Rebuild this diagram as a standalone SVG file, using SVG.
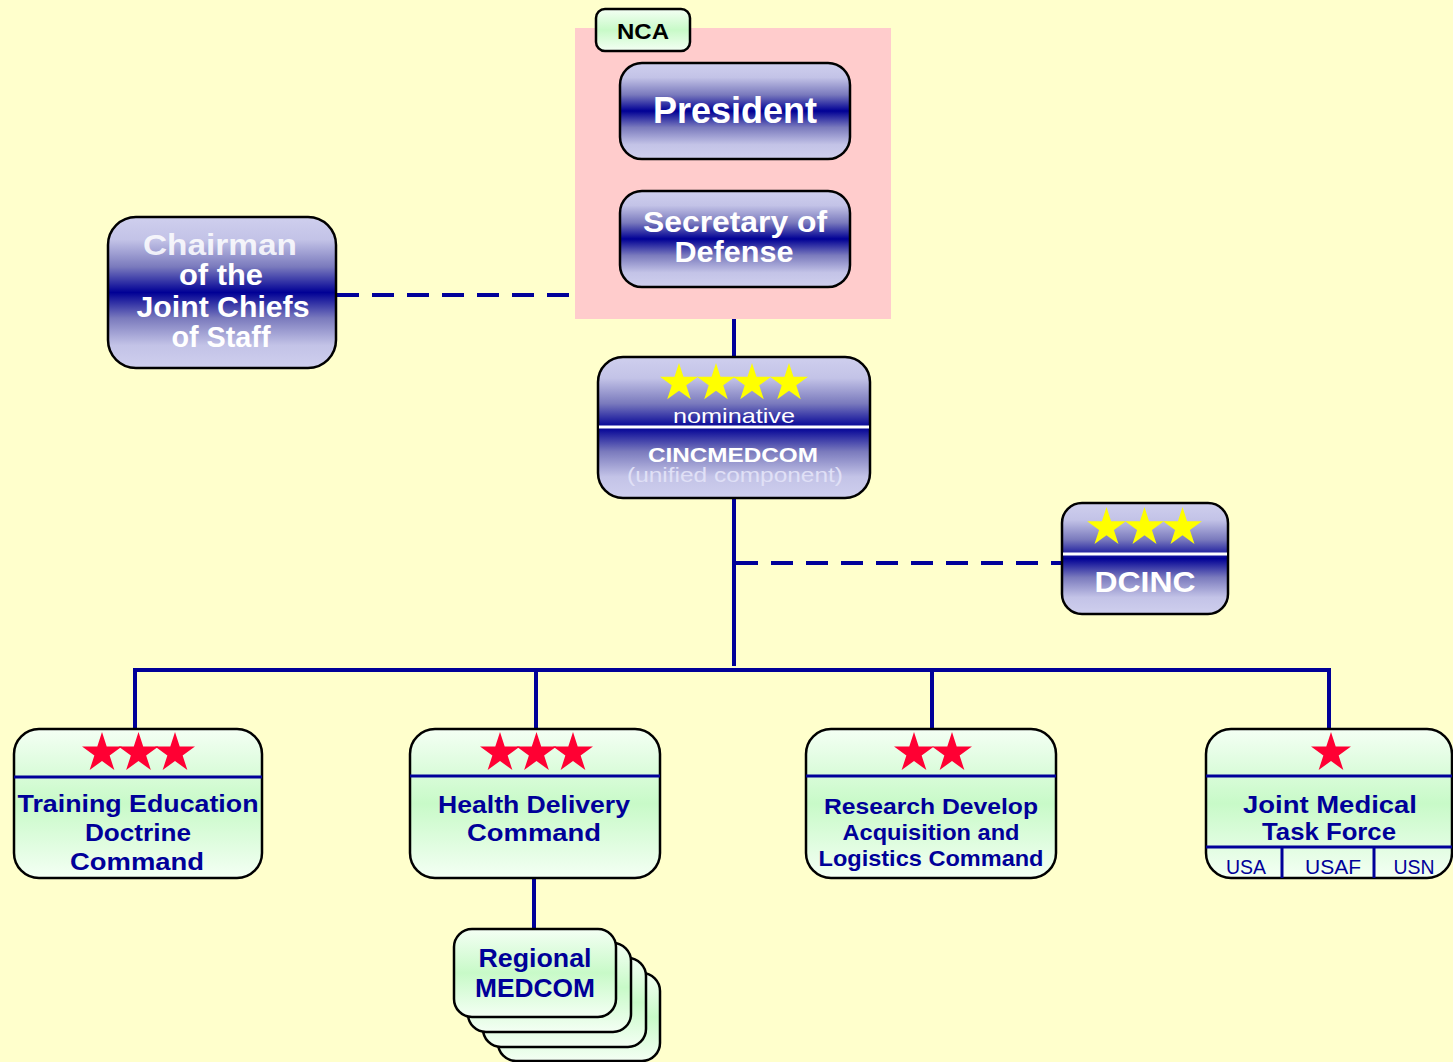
<svg xmlns="http://www.w3.org/2000/svg" width="1453" height="1062" viewBox="0 0 1453 1062">
  <defs>
    <!-- lavender/navy bands for command-level boxes -->
    <linearGradient id="blueBand" x1="0" y1="0" x2="0" y2="1">
      <stop offset="0" stop-color="#CFCFEE"/>
      <stop offset="0.15" stop-color="#C3C3E7"/>
      <stop offset="0.33" stop-color="#7A7ABD"/>
      <stop offset="0.5" stop-color="#000095"/>
      <stop offset="0.67" stop-color="#7A7ABD"/>
      <stop offset="0.85" stop-color="#C3C3E7"/>
      <stop offset="1" stop-color="#CFCFEE"/>
    </linearGradient>
    <!-- pale green bands for subordinate commands -->
    <linearGradient id="greenBand" x1="0" y1="0" x2="0" y2="1">
      <stop offset="0" stop-color="#F4FFF4"/>
      <stop offset="0.5" stop-color="#C8FAC8"/>
      <stop offset="1" stop-color="#F4FFF4"/>
    </linearGradient>
    <path id="star" d="M0,-20 L4.49,-6.18 L19.02,-6.18 L7.27,2.36 L11.76,16.18 L0,7.64 L-11.76,16.18 L-7.27,2.36 L-19.02,-6.18 L-4.49,-6.18 Z"/>
    <style>
      .blue { fill: url(#blueBand); stroke: #000; stroke-width: 2.5; }
      .green { fill: url(#greenBand); stroke: #000; stroke-width: 2.5; }
      .wt { font-family: "Liberation Sans", Arial, sans-serif; font-weight: bold; fill: #FFFFFF; text-anchor: middle; }
      .nt { font-family: "Liberation Sans", Arial, sans-serif; font-weight: bold; fill: #000099; text-anchor: middle; }
      .thin { font-family: "Liberation Sans", Arial, sans-serif; font-weight: normal; text-anchor: middle; }
      .solid { stroke: #000099; stroke-width: 4; fill: none; }
      .dash { stroke: #000099; stroke-width: 4; fill: none; stroke-dasharray: 22 13; }
      .div { stroke: #000099; stroke-width: 3; }
      .ystar { fill: #FFFF00; }
      .rstar { fill: #FF0033; }
    </style>
  </defs>

  <rect width="1453" height="1062" fill="#FFFFCC"/>

  <!-- connectors -->
  <g id="connectors">
    <line class="dash" x1="337" y1="295" x2="575" y2="295"/>
    <line class="solid" x1="734" y1="319" x2="734" y2="357"/>
    <line class="solid" x1="734" y1="498" x2="734" y2="666"/>
    <line class="dash" x1="736" y1="563" x2="1062" y2="563"/>
    <polyline class="solid" points="135,729 135,670 1329,670 1329,729"/>
    <line class="solid" x1="536" y1="670" x2="536" y2="729"/>
    <line class="solid" x1="932" y1="670" x2="932" y2="729"/>
    <line class="solid" x1="534" y1="878" x2="534" y2="928"/>
  </g>

  <!-- National Command Authority panel -->
  <g id="nca">
    <rect x="575" y="28" width="316" height="291" fill="#FFCCCC"/>
    <rect class="green" x="596" y="9" width="94" height="42" rx="9"/>
    <text x="643" y="39" font-family="Liberation Sans, Arial, sans-serif" font-weight="bold" font-size="22" text-anchor="middle" fill="#000" textLength="52" lengthAdjust="spacingAndGlyphs">NCA</text>
  </g>

  <g id="president">
    <rect class="blue" x="620" y="63" width="230" height="96" rx="22"/>
    <text class="wt" x="735" y="123" font-size="36" textLength="164" lengthAdjust="spacingAndGlyphs">President</text>
  </g>

  <g id="secdef">
    <rect class="blue" x="620" y="191" width="230" height="96" rx="22"/>
    <text class="wt" x="735" y="232" font-size="29" textLength="184" lengthAdjust="spacingAndGlyphs">Secretary of</text>
    <text class="wt" x="734" y="262" font-size="29" textLength="119" lengthAdjust="spacingAndGlyphs">Defense</text>
  </g>

  <g id="cjcs">
    <rect class="blue" x="108" y="217" width="228" height="151" rx="28"/>
    <text class="wt" x="220" y="255" font-size="30" fill-opacity="0.85" textLength="154" lengthAdjust="spacingAndGlyphs">Chairman</text>
    <text class="wt" x="221" y="285" font-size="30" textLength="84" lengthAdjust="spacingAndGlyphs">of the</text>
    <text class="wt" x="223" y="317" font-size="30" textLength="173" lengthAdjust="spacingAndGlyphs">Joint Chiefs</text>
    <text class="wt" x="221" y="347" font-size="30" textLength="99" lengthAdjust="spacingAndGlyphs">of Staff</text>
  </g>

  <g id="cincmedcom">
    <rect class="blue" x="598" y="357" width="272" height="141" rx="25"/>
    <use href="#star" class="ystar" transform="translate(679,383)"/>
    <use href="#star" class="ystar" transform="translate(716,383)"/>
    <use href="#star" class="ystar" transform="translate(752,383)"/>
    <use href="#star" class="ystar" transform="translate(789,383)"/>
    <text class="thin" x="734" y="423" font-size="21" fill="#FFFFFF" textLength="122" lengthAdjust="spacingAndGlyphs">nominative</text>
    <line x1="599" y1="427" x2="869" y2="427" stroke="#FFFFFF" stroke-width="3"/>
    <text class="wt" x="733" y="462" font-size="21" textLength="170" lengthAdjust="spacingAndGlyphs">CINCMEDCOM</text>
    <text class="thin" x="735" y="482" font-size="20" fill="#E0E0F6" textLength="216" lengthAdjust="spacingAndGlyphs">(unified component)</text>
  </g>

  <g id="dcinc">
    <rect class="blue" x="1062" y="503" width="166" height="111" rx="20"/>
    <use href="#star" class="ystar" transform="translate(1106.5,527.5) scale(1.02)"/>
    <use href="#star" class="ystar" transform="translate(1144.5,527.5) scale(1.02)"/>
    <use href="#star" class="ystar" transform="translate(1182.5,527.5) scale(1.02)"/>
    <line x1="1063" y1="554" x2="1227" y2="554" stroke="#FFFFFF" stroke-width="3"/>
    <text class="wt" x="1145" y="592" font-size="30" textLength="101" lengthAdjust="spacingAndGlyphs">DCINC</text>
  </g>

  <g id="tedc">
    <rect class="green" x="14" y="729" width="248" height="149" rx="25"/>
    <use href="#star" class="rstar" transform="translate(102,753) scale(1.05)"/>
    <use href="#star" class="rstar" transform="translate(138.5,753) scale(1.05)"/>
    <use href="#star" class="rstar" transform="translate(175,753) scale(1.05)"/>
    <line class="div" x1="14" y1="777" x2="262" y2="777"/>
    <text class="nt" x="138" y="812" font-size="24" textLength="241" lengthAdjust="spacingAndGlyphs">Training Education</text>
    <text class="nt" x="138" y="841" font-size="24" textLength="106" lengthAdjust="spacingAndGlyphs">Doctrine</text>
    <text class="nt" x="137" y="870" font-size="24" textLength="134" lengthAdjust="spacingAndGlyphs">Command</text>
  </g>

  <g id="hdc">
    <rect class="green" x="410" y="729" width="250" height="149" rx="25"/>
    <use href="#star" class="rstar" transform="translate(500,753) scale(1.05)"/>
    <use href="#star" class="rstar" transform="translate(536.5,753) scale(1.05)"/>
    <use href="#star" class="rstar" transform="translate(573,753) scale(1.05)"/>
    <line class="div" x1="410" y1="776" x2="660" y2="776"/>
    <text class="nt" x="534" y="813" font-size="24" textLength="192" lengthAdjust="spacingAndGlyphs">Health Delivery</text>
    <text class="nt" x="534" y="841" font-size="24" textLength="134" lengthAdjust="spacingAndGlyphs">Command</text>
  </g>

  <g id="rdalc">
    <rect class="green" x="806" y="729" width="250" height="149" rx="25"/>
    <use href="#star" class="rstar" transform="translate(914,753) scale(1.05)"/>
    <use href="#star" class="rstar" transform="translate(952,753) scale(1.05)"/>
    <line class="div" x1="806" y1="776" x2="1056" y2="776"/>
    <text class="nt" x="931" y="814" font-size="22" textLength="214" lengthAdjust="spacingAndGlyphs">Research Develop</text>
    <text class="nt" x="931" y="840" font-size="22" textLength="177" lengthAdjust="spacingAndGlyphs">Acquisition and</text>
    <text class="nt" x="931" y="866" font-size="22" textLength="225" lengthAdjust="spacingAndGlyphs">Logistics Command</text>
  </g>

  <g id="jmtf">
    <rect class="green" x="1206" y="729" width="246" height="149" rx="25"/>
    <use href="#star" class="rstar" transform="translate(1331,753) scale(1.05)"/>
    <line class="div" x1="1206" y1="776" x2="1452" y2="776"/>
    <text class="nt" x="1330" y="813" font-size="24" textLength="174" lengthAdjust="spacingAndGlyphs">Joint Medical</text>
    <text class="nt" x="1329" y="840" font-size="24" textLength="134" lengthAdjust="spacingAndGlyphs">Task Force</text>
    <line class="div" x1="1206" y1="847" x2="1452" y2="847"/>
    <line class="div" x1="1282" y1="847" x2="1282" y2="878"/>
    <line class="div" x1="1374" y1="847" x2="1374" y2="878"/>
    <text class="thin" x="1246" y="874" font-size="20" fill="#000099" textLength="40" lengthAdjust="spacingAndGlyphs">USA</text>
    <text class="thin" x="1333" y="874" font-size="20" fill="#000099" textLength="56" lengthAdjust="spacingAndGlyphs">USAF</text>
    <text class="thin" x="1414" y="874" font-size="20" fill="#000099" textLength="41" lengthAdjust="spacingAndGlyphs">USN</text>
  </g>

  <!-- stacked regional commands, back to front -->
  <g id="regional-medcom">
    <rect class="green" x="498" y="973" width="162" height="88" rx="18"/>
    <rect class="green" x="483" y="958" width="163" height="89" rx="18"/>
    <rect class="green" x="468" y="943" width="163" height="89" rx="18"/>
    <rect class="green" x="454" y="929" width="162" height="88" rx="18"/>
    <text class="nt" x="535" y="967" font-size="25" textLength="113" lengthAdjust="spacingAndGlyphs">Regional</text>
    <text class="nt" x="535" y="997" font-size="25" textLength="120" lengthAdjust="spacingAndGlyphs">MEDCOM</text>
  </g>
</svg>
